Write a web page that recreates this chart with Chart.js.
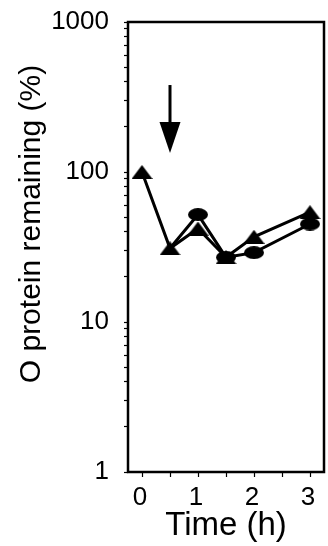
<!DOCTYPE html>
<html>
<head>
<meta charset="utf-8">
<script src="https://cdn.jsdelivr.net/npm/chart.js@4.4.1/dist/chart.umd.min.js"></script>
<style>
  html, body { margin: 0; padding: 0; background: #fff; }
  #wrap { width: 328px; height: 546px; }
</style>
</head>
<body>
<div id="wrap"><canvas id="chart" width="328" height="546"></canvas></div>
<script>
// Time points (h) and O protein remaining (%) for the two series
const timeCircle = [0.5, 1, 1.5, 2, 3];
const circleValues = [31, 52, 27, 29, 45];
const timeTriangle = [0, 0.5, 1, 1.5, 2, 3];
const triangleValues = [100, 31, 42, 27, 37, 54];

// Axis ticks
const xTickValues = [0, 0.5, 1, 1.5, 2, 2.5, 3];
const xTickLabels = ['0', '', '1', '', '2', '', '3'];
const yTickValues = [1,2,3,4,5,6,7,8,9,10,20,30,40,50,60,70,80,90,100,200,300,400,500,600,700,800,900,1000];
const yTickLabels = { 1: '1', 10: '10', 100: '100', 1000: '1000' };

// Arrow marking the time of treatment: x position, tail and tip values
const arrowTime = [0.5];
const arrowTail = [380];
const arrowTip = [134];

const FONT = '"Liberation Sans", Arial, Helvetica, sans-serif';

// Marker images: filled ellipse and flat filled triangle
function ellipseMarker(w, h) {
  const c = document.createElement('canvas');
  c.width = w; c.height = h;
  const g = c.getContext('2d');
  g.fillStyle = '#000';
  g.beginPath();
  g.ellipse(w / 2, h / 2, w / 2, h / 2, 0, 0, Math.PI * 2);
  g.fill();
  return c;
}
function triangleMarker(w, h) {
  const c = document.createElement('canvas');
  c.width = w; c.height = h;
  const g = c.getContext('2d');
  g.fillStyle = '#000';
  g.beginPath();
  g.moveTo(w / 2, 0);
  g.lineTo(w, h);
  g.lineTo(0, h);
  g.closePath();
  g.fill();
  return c;
}
const circleImg = ellipseMarker(20, 13);
const triangleImg = triangleMarker(21, 14);

// Frame around the plot area
const framePlugin = {
  id: 'frame',
  afterDatasetsDraw(chart) {
    const { ctx, chartArea: a } = chart;
    ctx.save();
    ctx.strokeStyle = '#000';
    ctx.lineWidth = 2.5;
    ctx.strokeRect(a.left, a.top, a.right - a.left, a.bottom - a.top);
    ctx.restore();
  }
};

// Downward arrow and the vertical axis caption
const arrowPlugin = {
  id: 'arrow',
  afterDatasetsDraw(chart) {
    const { ctx, scales } = chart;
    const x = scales.x.getPixelForValue(arrowTime[0]);
    const yTail = scales.y.getPixelForValue(arrowTail[0]);
    const yTip = scales.y.getPixelForValue(arrowTip[0]);
    const headH = 31, headW = 21;
    ctx.save();
    ctx.fillStyle = '#000';
    ctx.strokeStyle = '#000';
    ctx.lineWidth = 3;
    ctx.beginPath();
    ctx.moveTo(x, yTail);
    ctx.lineTo(x, yTip - headH + 2);
    ctx.stroke();
    ctx.beginPath();
    ctx.moveTo(x - headW / 2, yTip - headH);
    ctx.lineTo(x + headW / 2, yTip - headH);
    ctx.lineTo(x, yTip);
    ctx.closePath();
    ctx.fill();
    ctx.restore();
  },
  afterDraw(chart) {
    const { ctx } = chart;
    ctx.save();
    ctx.translate(32, 224);
    ctx.rotate(-Math.PI / 2);
    ctx.fillStyle = '#000';
    ctx.font = '30px ' + FONT;
    ctx.textAlign = 'center';
    ctx.textBaseline = 'middle';
    ctx.fillText('O protein remaining (%)', 0, 0);
    ctx.restore();
  }
};

new Chart(document.getElementById('chart'), {
  type: 'line',
  data: {
    datasets: [
      {
        label: 'triangles',
        data: timeTriangle.map((t, i) => ({ x: t, y: triangleValues[i] })),
        borderColor: '#000',
        borderWidth: 3,
        pointStyle: triangleImg,
        pointRadius: 10,
        tension: 0,
        fill: false
      },
      {
        label: 'circles',
        data: timeCircle.map((t, i) => ({ x: t, y: circleValues[i] })),
        borderColor: '#000',
        borderWidth: 3,
        pointStyle: circleImg,
        // the first circle sits under the triangle at the same time point
        pointRadius: timeCircle.map((t, i) => (i === 0 ? 0 : 10)),
        tension: 0,
        fill: false
      }
    ]
  },
  options: {
    responsive: false,
    animation: false,
    events: [],
    layout: { autoPadding: false, padding: { left: 0, right: 4, top: 22, bottom: 0 } },
    plugins: { legend: { display: false }, tooltip: { enabled: false } },
    scales: {
      x: {
        type: 'linear',
        min: -0.25,
        max: 3.25,
        afterBuildTicks(scale) { scale.ticks = xTickValues.map(v => ({ value: v })); },
        afterFit(scale) {
          scale.height = 74;
          scale.paddingLeft = 0;
          scale.paddingRight = 0;
        },
        grid: { display: true, drawOnChartArea: false, drawTicks: true, tickLength: 5, tickColor: '#000', tickWidth: 1.2 },
        border: { display: false },
        ticks: {
          autoSkip: false,
          maxRotation: 0,
          padding: 5,
          labelOffset: -2,
          color: '#000',
          font: { family: FONT, size: 26 },
          callback(value) {
            const i = xTickValues.indexOf(value);
            return i >= 0 ? xTickLabels[i] : '';
          }
        },
        title: {
          display: true,
          text: 'Time (h)',
          color: '#000',
          font: { family: FONT, size: 33 },
          padding: { top: 0, bottom: 0 }
        }
      },
      y: {
        type: 'logarithmic',
        min: 1,
        max: 1000,
        afterBuildTicks(scale) { scale.ticks = yTickValues.map(v => ({ value: v })); },
        afterFit(scale) {
          scale.width = 128;
          scale.paddingTop = 0;
          scale.paddingBottom = 0;
        },
        grid: { display: true, drawOnChartArea: false, drawTicks: true, tickLength: 4, tickColor: '#000', tickWidth: 1.2 },
        border: { display: false },
        ticks: {
          autoSkip: false,
          padding: 15,
          color: '#000',
          font: { family: FONT, size: 26 },
          callback(value) { return yTickLabels[value] || ''; }
        }
      }
    }
  },
  plugins: [framePlugin, arrowPlugin]
});
</script>
</body>
</html>
